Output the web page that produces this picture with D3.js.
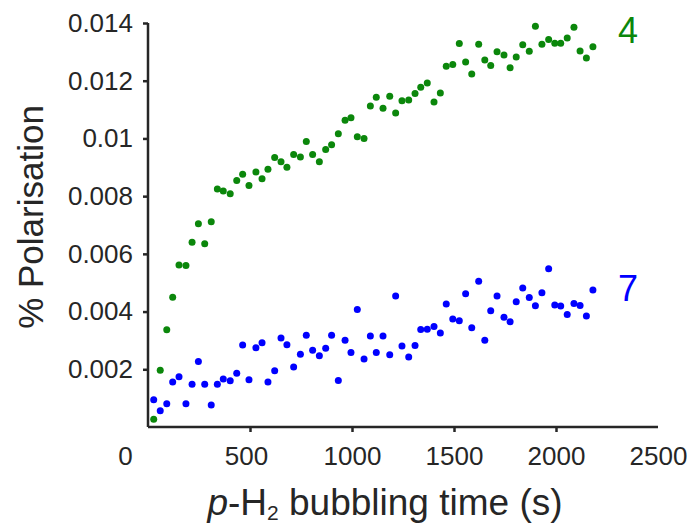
<!DOCTYPE html>
<html>
<head>
<meta charset="utf-8">
<script src="https://cdn.jsdelivr.net/npm/d3@7"></script>
<style>
  body { margin: 0; background: #fff; }
  text { font-family: "Liberation Sans", Arial, sans-serif; fill: #262626; }
</style>
</head>
<body>
<div id="chart"></div>
<script>
// bubbling times (s), shared by both series
const times = [28, 60, 92, 121, 152, 186, 216, 247, 278, 310, 340, 369, 403, 435, 464, 495, 529, 559, 588, 621,
  652, 681, 714, 747, 776, 807, 840, 871, 900, 933, 966, 995, 1026, 1059, 1090, 1119, 1152, 1185, 1214, 1245,
  1278, 1309, 1337, 1369, 1402, 1433, 1462, 1494, 1526, 1557, 1587, 1621, 1651, 1680, 1711, 1745, 1775, 1805, 1837, 1869,
  1899, 1931, 1964, 1994, 2023, 2055, 2088, 2118, 2149, 2181];

// compound 4 (green)
const pol4 = [0.00027, 0.00197, 0.00337, 0.00450, 0.00561, 0.00560, 0.00640, 0.00704, 0.00635, 0.00711,
  0.00825, 0.00818, 0.00808, 0.00854, 0.00876, 0.00837, 0.00884, 0.00860, 0.00893, 0.00934,
  0.00919, 0.00900, 0.00944, 0.00936, 0.00989, 0.00944, 0.00919, 0.00962, 0.00978, 0.01016,
  0.01063, 0.01072, 0.01006, 0.01000, 0.01112, 0.01143, 0.01105, 0.01146, 0.01088, 0.01131,
  0.01133, 0.01156, 0.01177, 0.01192, 0.01126, 0.01157, 0.01250, 0.01256, 0.01329, 0.01265,
  0.01223, 0.01326, 0.01272, 0.01253, 0.01300, 0.01289, 0.01245, 0.01282, 0.01325, 0.01302,
  0.01389, 0.01326, 0.01343, 0.01330, 0.01330, 0.01348, 0.01385, 0.01303, 0.01279, 0.01318];

// compound 7 (blue)
const pol7 = [0.00094, 0.00056, 0.00081, 0.00156, 0.00174, 0.00081, 0.00148, 0.00227, 0.00148, 0.00076,
  0.00148, 0.00166, 0.00160, 0.00186, 0.00284, 0.00164, 0.00275, 0.00292, 0.00156, 0.00195,
  0.00308, 0.00285, 0.00208, 0.00252, 0.00318, 0.00266, 0.00247, 0.00273, 0.00318, 0.00161,
  0.00301, 0.00258, 0.00407, 0.00236, 0.00315, 0.00258, 0.00315, 0.00250, 0.00454, 0.00281,
  0.00243, 0.00282, 0.00338, 0.00339, 0.00348, 0.00326, 0.00426, 0.00374, 0.00368, 0.00462,
  0.00344, 0.00505, 0.00301, 0.00403, 0.00454, 0.00380, 0.00365, 0.00434, 0.00482, 0.00449,
  0.00420, 0.00465, 0.00548, 0.00423, 0.00419, 0.00390, 0.00428, 0.00421, 0.00385, 0.00475];

const xTicks = [0, 500, 1000, 1500, 2000, 2500];
const xTickLabels = ["0", "500", "1000", "1500", "2000", "2500"];
const yTicks = [0.002, 0.004, 0.006, 0.008, 0.01, 0.012, 0.014];
const yTickLabels = ["0.002", "0.004", "0.006", "0.008", "0.01", "0.012", "0.014"];

const seriesNames = ["4", "7"];
const seriesColors = ["#0b870b", "#0000ff"];

const W = 687, H = 526;
const margin = { top: 23, right: 29, bottom: 99, left: 148 };
const width = W - margin.left - margin.right;
const height = H - margin.top - margin.bottom;

const svg = d3.select("#chart")
  .append("svg")
  .attr("width", W)
  .attr("height", H)
  .append("g")
  .attr("transform", `translate(${margin.left},${margin.top})`);

const x = d3.scaleLinear().domain([0, 2500]).range([0, width]);
const y = d3.scaleLinear().domain([0, 0.014]).range([height, 0]);

// x axis
const gx = svg.append("g")
  .attr("transform", `translate(0,${height})`)
  .call(d3.axisBottom(x).tickValues(xTicks).tickSize(5).tickPadding(15)
    .tickFormat((d, i) => xTickLabels[i]));
gx.selectAll(".tick line").filter(d => d === 0 || d === 2500).remove();
gx.selectAll(".tick text").filter(d => d === 0).attr("dx", -23);
gx.selectAll(".tick text").filter(d => d === 500).attr("dx", -4);

// y axis
const gy = svg.append("g")
  .call(d3.axisLeft(y).tickValues(yTicks).tickSize(5).tickPadding(10)
    .tickFormat((d, i) => yTickLabels[i]));

[gx, gy].forEach(g => {
  g.select(".domain").attr("stroke", "#262626").attr("stroke-width", 2.5);
  g.selectAll(".tick line").attr("stroke", "#262626").attr("stroke-width", 2.5);
  g.selectAll(".tick text")
    .style("font-family", "'Liberation Sans', Arial, sans-serif")
    .style("font-size", "26px")
    .attr("fill", "#262626");
});
gx.select(".domain").attr("d", `M0,0H${width}`);
gy.select(".domain").attr("d", `M0,0V${height}`);

// points
const series = [pol4, pol7];
series.forEach((vals, k) => {
  svg.append("g")
    .selectAll("circle")
    .data(vals)
    .enter()
    .append("circle")
    .attr("cx", (d, i) => x(times[i]))
    .attr("cy", d => y(d))
    .attr("r", 3.5)
    .attr("fill", seriesColors[k]);
});

// series labels at the end of each set
const lastT = times[times.length - 1];
svg.selectAll(".series-label")
  .data(seriesNames)
  .enter()
  .append("text")
  .attr("class", "series-label")
  .attr("x", x(lastT) + 35)
  .attr("y", (d, i) => i === 0 ? y(0.0137) + 11 : y(0.0044) + 1)
  .attr("text-anchor", "middle")
  .style("font-size", "36px")
  .style("fill", (d, i) => seriesColors[i])
  .text(d => d);

// axis titles
const xt = svg.append("text")
  .attr("x", 237)
  .attr("y", height + 88)
  .attr("text-anchor", "middle")
  .style("font-size", "37px");
xt.append("tspan").style("font-style", "italic").text("p");
xt.append("tspan").text("-H");
xt.append("tspan").attr("dy", 5).style("font-size", "21px").text("2");
xt.append("tspan").attr("dy", -5).text(" bubbling time (s)");

svg.append("text")
  .attr("transform", `translate(${43 - margin.left},${217 - margin.top}) rotate(-90)`)
  .attr("text-anchor", "middle")
  .style("font-size", "35px")
  .text("% Polarisation");
</script>
</body>
</html>
